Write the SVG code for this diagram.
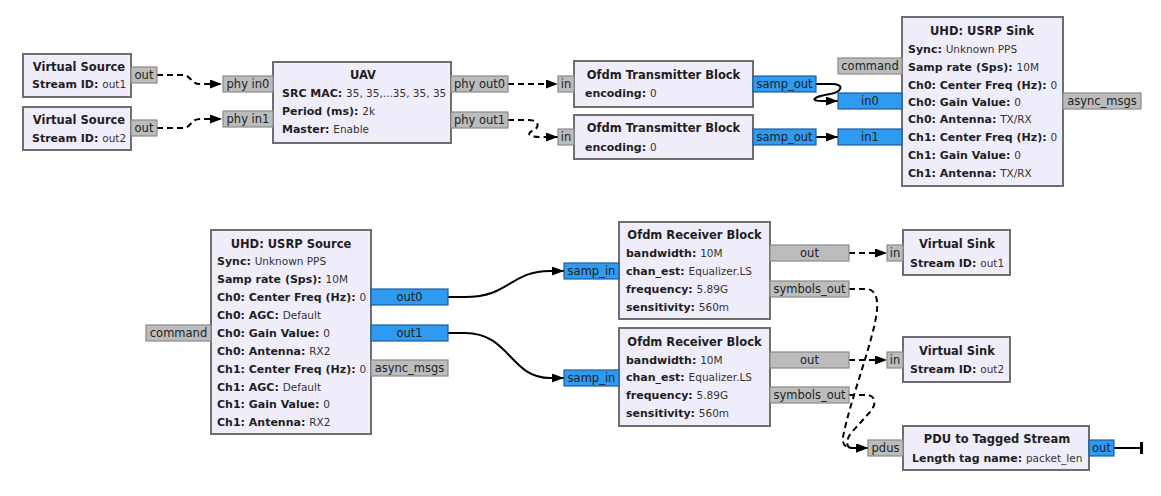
<svg xmlns="http://www.w3.org/2000/svg" width="1161" height="496" viewBox="0 0 1161 496">
<style>
text{font-family:"DejaVu Sans","Liberation Sans",sans-serif;fill:#1e1e1e}
.b{fill:#f0edfb;stroke:#6e6e6e;stroke-width:2}
.pg{fill:#bcbcbc;stroke:#8a8a8a;stroke-width:1.2}
.pb{fill:#2e9af0;stroke:#1b5ea0;stroke-width:1.2}
.t{font-weight:bold;font-size:11.5px;text-anchor:middle}
.l{font-size:10.5px;fill:#333}
.k{font-weight:bold;font-size:11px;fill:#1e1e1e}
.p{font-size:11.5px;text-anchor:middle;fill:#222}
.c{fill:none;stroke:#000;stroke-width:2}
.d{stroke-dasharray:6 4}
</style>
<defs>
<marker id="ar" markerUnits="userSpaceOnUse" markerWidth="13" markerHeight="10" refX="12" refY="4.5" orient="auto">
<path d="M0,0 L12,4.5 L0,9 z" fill="#000"/>
</marker>
</defs>

<g id="connectors">
<path class="c d" marker-end="url(#ar)" d="M157,75 H182 C192,75 190,84 200,84 H222"/>
<path class="c d" marker-end="url(#ar)" d="M157,128 H182 C192,128 190,119 200,119 H222"/>
<path class="c d" marker-end="url(#ar)" d="M508,84 H558"/>
<path class="c d" marker-end="url(#ar)" d="M508,120 H528 C540,120 540,128 532,131 C526,134 530,137 540,137 H558"/>
<path class="c" marker-end="url(#ar)" d="M816,84 H832 C845,84 842,92 830,94 C812,97 810,101 822,101 H838"/>
<path class="c" marker-end="url(#ar)" d="M816,137 H838"/>
<path class="c" marker-end="url(#ar)" d="M448,297 H465 C510,297 510,271 550,271 H564"/>
<path class="c" marker-end="url(#ar)" d="M448,333 H465 C510,333 510,378 550,378 H564"/>
<path class="c d" marker-end="url(#ar)" d="M849,253 H887"/>
<path class="c d" marker-end="url(#ar)" d="M849,360 H887"/>
<path class="c d" marker-end="url(#ar)" d="M849,289 H866 C876,289 878,300 877,310 C874,340 850,400 843,437 C842,445 846,448 852,448 H868"/>
<path class="c d" marker-end="url(#ar)" d="M849,395 H866 C876,395 877,404 870,412 L852,432 C845,440 846,448 852,448 H868"/>
<path class="c" d="M1114,448 H1141"/>
<rect x="1140" y="442" width="3" height="12" fill="#000"/>
</g>

<g id="vs1">
<rect class="b" x="23" y="54" width="108" height="43"/>
<text class="t" x="79" y="71">Virtual Source</text>
<text class="l" x="32" y="88"><tspan class="k">Stream ID: </tspan>out1</text>
<rect class="pg" x="131" y="67" width="26" height="16"/>
<text class="p" x="144" y="79">out</text>
</g>

<g id="vs2">
<rect class="b" x="23" y="107" width="108" height="43"/>
<text class="t" x="79" y="124">Virtual Source</text>
<text class="l" x="32" y="142"><tspan class="k">Stream ID: </tspan>out2</text>
<rect class="pg" x="131" y="120" width="26" height="16"/>
<text class="p" x="144" y="132">out</text>
</g>

<g id="uav">
<rect class="b" x="273" y="62" width="178" height="81"/>
<text class="t" x="363" y="79">UAV</text>
<text class="l" x="282" y="97"><tspan class="k">SRC MAC: </tspan>35, 35,...35, 35, 35</text>
<text class="l" x="282" y="115"><tspan class="k">Period (ms): </tspan>2k</text>
<text class="l" x="282" y="133"><tspan class="k">Master: </tspan>Enable</text>
<rect class="pg" x="223" y="76" width="50" height="16"/>
<text class="p" x="248" y="88">phy in0</text>
<rect class="pg" x="223" y="111" width="50" height="16"/>
<text class="p" x="248" y="123">phy in1</text>
<rect class="pg" x="451" y="76" width="57" height="16"/>
<text class="p" x="479.5" y="88">phy out0</text>
<rect class="pg" x="451" y="112" width="57" height="16"/>
<text class="p" x="479.5" y="124">phy out1</text>
</g>

<g id="tx1">
<rect class="b" x="574" y="61" width="179" height="46"/>
<text class="t" x="663.5" y="79">Ofdm Transmitter Block</text>
<text class="l" x="585" y="97"><tspan class="k">encoding: </tspan>0</text>
<rect class="pg" x="558" y="76" width="16" height="16"/>
<text class="p" x="566" y="88">in</text>
<rect class="pb" x="753" y="76" width="63" height="16"/>
<text class="p" x="784.5" y="88">samp_out</text>
</g>

<g id="tx2">
<rect class="b" x="574" y="115" width="179" height="44"/>
<text class="t" x="663.5" y="132">Ofdm Transmitter Block</text>
<text class="l" x="585" y="151"><tspan class="k">encoding: </tspan>0</text>
<rect class="pg" x="558" y="129" width="16" height="16"/>
<text class="p" x="566" y="141">in</text>
<rect class="pb" x="753" y="129" width="63" height="16"/>
<text class="p" x="784.5" y="141">samp_out</text>
</g>

<g id="usrp_sink">
<rect class="b" x="902" y="17" width="161" height="169"/>
<text class="t" x="982" y="35">UHD: USRP Sink</text>
<text class="l" x="908" y="53"><tspan class="k">Sync: </tspan>Unknown PPS</text>
<text class="l" x="908" y="71"><tspan class="k">Samp rate (Sps): </tspan>10M</text>
<text class="l" x="908" y="89"><tspan class="k">Ch0: Center Freq (Hz): </tspan>0</text>
<text class="l" x="908" y="106"><tspan class="k">Ch0: Gain Value: </tspan>0</text>
<text class="l" x="908" y="123"><tspan class="k">Ch0: Antenna: </tspan>TX/RX</text>
<text class="l" x="908" y="141"><tspan class="k">Ch1: Center Freq (Hz): </tspan>0</text>
<text class="l" x="908" y="159"><tspan class="k">Ch1: Gain Value: </tspan>0</text>
<text class="l" x="908" y="177"><tspan class="k">Ch1: Antenna: </tspan>TX/RX</text>
<rect class="pg" x="838" y="58" width="64" height="16"/>
<text class="p" x="870" y="70">command</text>
<rect class="pb" x="838" y="93" width="64" height="16"/>
<text class="p" x="870" y="105">in0</text>
<rect class="pb" x="838" y="129" width="64" height="16"/>
<text class="p" x="870" y="141">in1</text>
<rect class="pg" x="1063" y="93" width="78" height="16"/>
<text class="p" x="1102" y="105">async_msgs</text>
</g>

<g id="usrp_source">
<rect class="b" x="211" y="230" width="160" height="204"/>
<text class="t" x="291" y="248">UHD: USRP Source</text>
<text class="l" x="217" y="265"><tspan class="k">Sync: </tspan>Unknown PPS</text>
<text class="l" x="217" y="283"><tspan class="k">Samp rate (Sps): </tspan>10M</text>
<text class="l" x="217" y="301"><tspan class="k">Ch0: Center Freq (Hz): </tspan>0</text>
<text class="l" x="217" y="319"><tspan class="k">Ch0: AGC: </tspan>Default</text>
<text class="l" x="217" y="337"><tspan class="k">Ch0: Gain Value: </tspan>0</text>
<text class="l" x="217" y="355"><tspan class="k">Ch0: Antenna: </tspan>RX2</text>
<text class="l" x="217" y="373"><tspan class="k">Ch1: Center Freq (Hz): </tspan>0</text>
<text class="l" x="217" y="391"><tspan class="k">Ch1: AGC: </tspan>Default</text>
<text class="l" x="217" y="408"><tspan class="k">Ch1: Gain Value: </tspan>0</text>
<text class="l" x="217" y="426"><tspan class="k">Ch1: Antenna: </tspan>RX2</text>
<rect class="pg" x="146" y="325" width="65" height="16"/>
<text class="p" x="178.5" y="337">command</text>
<rect class="pb" x="371" y="289" width="77" height="16"/>
<text class="p" x="409.5" y="301">out0</text>
<rect class="pb" x="371" y="325" width="77" height="16"/>
<text class="p" x="409.5" y="337">out1</text>
<rect class="pg" x="371" y="360" width="77" height="16"/>
<text class="p" x="409.5" y="372">async_msgs</text>
</g>

<g id="rx1">
<rect class="b" x="619" y="222" width="151" height="97"/>
<text class="t" x="694.5" y="239">Ofdm Receiver Block</text>
<text class="l" x="626" y="257"><tspan class="k">bandwidth: </tspan>10M</text>
<text class="l" x="626" y="275"><tspan class="k">chan_est: </tspan>Equalizer.LS</text>
<text class="l" x="626" y="293"><tspan class="k">frequency: </tspan>5.89G</text>
<text class="l" x="626" y="311"><tspan class="k">sensitivity: </tspan>560m</text>
<rect class="pb" x="564" y="263" width="55" height="16"/>
<text class="p" x="591.5" y="275">samp_in</text>
<rect class="pg" x="770" y="245" width="79" height="16"/>
<text class="p" x="809.5" y="257">out</text>
<rect class="pg" x="770" y="281" width="79" height="16"/>
<text class="p" x="809.5" y="293">symbols_out</text>
</g>

<g id="rx2">
<rect class="b" x="619" y="328" width="151" height="98"/>
<text class="t" x="694.5" y="346">Ofdm Receiver Block</text>
<text class="l" x="626" y="364"><tspan class="k">bandwidth: </tspan>10M</text>
<text class="l" x="626" y="381"><tspan class="k">chan_est: </tspan>Equalizer.LS</text>
<text class="l" x="626" y="399"><tspan class="k">frequency: </tspan>5.89G</text>
<text class="l" x="626" y="417"><tspan class="k">sensitivity: </tspan>560m</text>
<rect class="pb" x="564" y="370" width="55" height="16"/>
<text class="p" x="591.5" y="382">samp_in</text>
<rect class="pg" x="770" y="352" width="79" height="16"/>
<text class="p" x="809.5" y="364">out</text>
<rect class="pg" x="770" y="387" width="79" height="16"/>
<text class="p" x="809.5" y="399">symbols_out</text>
</g>

<g id="vsink1">
<rect class="b" x="903" y="230" width="107" height="45"/>
<text class="t" x="957" y="248">Virtual Sink</text>
<text class="l" x="910" y="267"><tspan class="k">Stream ID: </tspan>out1</text>
<rect class="pg" x="887" y="245" width="16" height="16"/>
<text class="p" x="895" y="257">in</text>
</g>

<g id="vsink2">
<rect class="b" x="903" y="337" width="107" height="45"/>
<text class="t" x="957" y="355">Virtual Sink</text>
<text class="l" x="910" y="373"><tspan class="k">Stream ID: </tspan>out2</text>
<rect class="pg" x="887" y="352" width="16" height="16"/>
<text class="p" x="895" y="364">in</text>
</g>

<g id="pdu">
<rect class="b" x="903" y="426" width="186" height="44"/>
<text class="t" x="997" y="443">PDU to Tagged Stream</text>
<text class="l" x="912" y="462"><tspan class="k">Length tag name: </tspan>packet_len</text>
<rect class="pg" x="868" y="440" width="35" height="16"/>
<text class="p" x="885.5" y="452">pdus</text>
<rect class="pb" x="1089" y="440" width="25" height="16"/>
<text class="p" x="1101.5" y="452">out</text>
</g>
</svg>
